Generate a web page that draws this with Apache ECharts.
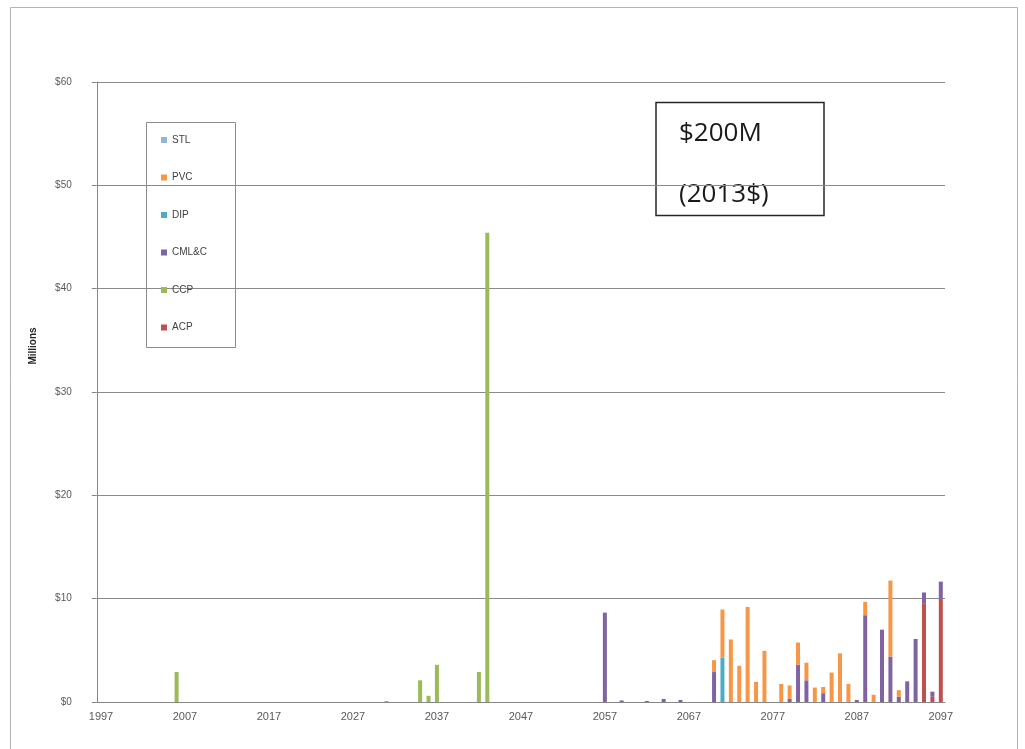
<!DOCTYPE html>
<html><head><meta charset="utf-8">
<script src="https://cdn.jsdelivr.net/npm/echarts@6/dist/echarts.min.js"></script>
<style>html,body{margin:0;padding:0;background:#fff}#c{width:1025px;height:749px}</style>
</head><body><div id="c"></div>
<script>
// ---- data ----
const firstYear = 1997;
const lastYear = 2097;
const years = [];
for (let y = firstYear; y <= lastYear; y++) years.push(String(y));

const yAxisTicks = [0, 10, 20, 30, 40, 50, 60];

// [year, value in $ millions]
const ACP  = [[2095, 9.5], [2096, 0.5], [2097, 10.0]];
const CCP  = [[2006, 2.9], [2031, 0.1], [2035, 2.1], [2036, 0.6], [2037, 3.6], [2042, 2.9], [2043, 45.4]];
const CMLC = [[2057, 8.65], [2059, 0.15], [2062, 0.1], [2064, 0.3], [2066, 0.2], [2070, 2.9], [2079, 0.3],
              [2080, 3.6], [2081, 2.1], [2083, 0.85], [2087, 0.2], [2088, 8.4], [2090, 7.0], [2091, 4.4],
              [2092, 0.5], [2093, 2.0], [2094, 6.1], [2095, 1.1], [2096, 0.5], [2097, 1.65]];
const DIP  = [[2071, 4.3]];
const PVC  = [[2070, 1.15], [2071, 4.65], [2072, 6.05], [2073, 3.5], [2074, 9.2], [2075, 1.95], [2076, 4.95],
              [2078, 1.75], [2079, 1.3], [2080, 2.15], [2081, 1.7], [2082, 1.4], [2083, 0.6], [2084, 2.85],
              [2085, 4.7], [2086, 1.75], [2088, 1.3], [2089, 0.7], [2091, 7.35], [2092, 0.65]];
const STL  = [];

const seriesDefs = [
  { name: 'ACP',   data: ACP,  color: '#C0504D' },
  { name: 'CCP',   data: CCP,  color: '#9BBB59' },
  { name: 'CML&C', data: CMLC, color: '#8064A2' },
  { name: 'DIP',   data: DIP,  color: '#4BACC6' },
  { name: 'PVC',   data: PVC,  color: '#F79646' },
  { name: 'STL',   data: STL,  color: '#95B3D7' }
];
const legendOrder = ['STL', 'PVC', 'DIP', 'CML&C', 'CCP', 'ACP'];

function toFull(pairs) {
  const arr = years.map(() => null);
  pairs.forEach(([y, v]) => { arr[y - firstYear] = v; });
  return arr;
}

const chart = echarts.init(document.getElementById('c'), null, { renderer: 'canvas' });
const labelColor = '#595959';
chart.setOption({
  animation: false,
  backgroundColor: '#fff',
  grid: { left: 96.8, right: 80, top: 82, bottom: 47, containLabel: false },
  xAxis: {
    type: 'category',
    data: years,
    boundaryGap: true,
    axisLine: { lineStyle: { color: '#868686', width: 1 } },
    axisTick: { interval: 9, length: 5, lineStyle: { color: '#868686' } },
    axisLabel: { interval: 9, fontSize: 11, color: labelColor, margin: 9, fontFamily: 'Liberation Sans' }
  },
  yAxis: {
    type: 'value',
    min: yAxisTicks[0], max: yAxisTicks[yAxisTicks.length - 1], interval: 10,
    axisLine: { show: true, lineStyle: { color: '#868686', width: 1 } },
    axisTick: { show: true, length: 5, lineStyle: { color: '#868686' } },
    splitLine: { lineStyle: { color: '#8a8a8a', width: 1 } },
    axisLabel: { formatter: v => '$' + v, fontSize: 10, color: labelColor, margin: 25, fontFamily: 'Liberation Sans' }
  },
  legend: {
    data: legendOrder,
    orient: 'vertical',
    left: 161, top: 134,
    itemWidth: 6, itemHeight: 6, itemGap: 25.5,
    icon: 'rect',
    padding: 0,
    textStyle: { fontSize: 10, lineHeight: 12, color: '#404040', fontFamily: 'Liberation Sans' }
  },
  series: seriesDefs.map(s => ({
    name: s.name,
    type: 'bar',
    stack: 'total',
    barWidth: 4,
    itemStyle: { color: s.color },
    data: toFull(s.data)
  })),
  graphic: [
    { type: 'rect', shape: { x: 10.5, y: 7.5, width: 1007, height: 800 }, style: { fill: null, stroke: '#b4b4b4', lineWidth: 1 }, silent: true },
    { type: 'rect', shape: { x: 146.5, y: 122.5, width: 89, height: 225 }, style: { fill: null, stroke: '#8c8c8c', lineWidth: 1 }, silent: true },
    { type: 'rect', shape: { x: 656, y: 102.5, width: 168, height: 113 }, style: { fill: '#fff', stroke: '#262626', lineWidth: 1.5 }, silent: true },
    { type: 'text', x: 679, y: 134, style: { text: '$200M', font: '26px "Open Sans"', fill: '#1a1a1a', verticalAlign: 'middle', align: 'left' } },
    { type: 'text', x: 679, y: 195, style: { text: '(2013$)', font: '26px "Open Sans"', fill: '#1a1a1a', verticalAlign: 'middle', align: 'left' } },
    { type: 'text', x: 33, y: 346, rotation: Math.PI / 2, style: { text: 'Millions', font: 'bold 10px "Liberation Sans"', fill: '#262626', align: 'center', verticalAlign: 'middle' } }
  ]
});
</script>
</body></html>
